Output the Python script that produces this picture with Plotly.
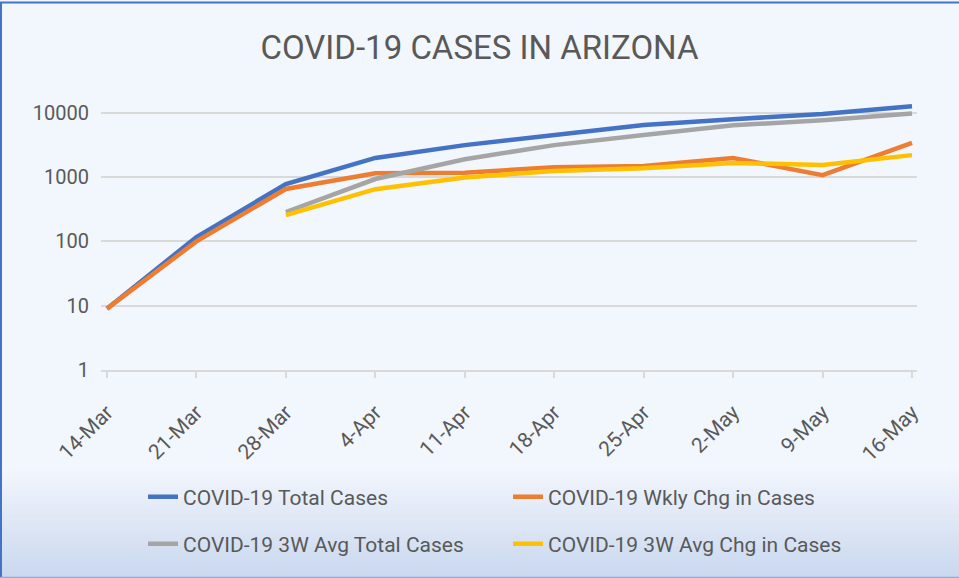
import plotly.graph_objects as go

dates = ["14-Mar", "21-Mar", "28-Mar", "4-Apr", "11-Apr", "18-Apr", "25-Apr", "2-May", "9-May", "16-May"]
total_cases = [9, 117, 780, 1990, 3150, 4500, 6450, 7980, 9600, 12700]
wkly_chg = [9, 100, 655, 1150, 1170, 1430, 1490, 1990, 1075, 3400]
avg3w_total = [None, None, 287, 935, 1900, 3150, 4520, 6400, 7700, 9800]
avg3w_chg = [None, None, 257, 650, 990, 1245, 1380, 1660, 1550, 2200]

series_names = ["COVID-19 Total Cases", "COVID-19 Wkly Chg in Cases",
                "COVID-19 3W Avg Total Cases", "COVID-19 3W Avg Chg in Cases"]
series_colors = ["#4472C4", "#ED7D31", "#A5A5A5", "#FFC000"]
series_vals = [total_cases, wkly_chg, avg3w_total, avg3w_chg]
series_legend = ["legend", "legend", "legend2", "legend2"]

FONT = "Roboto, sans-serif"
TXT = "#595959"

xs = list(range(len(dates)))
fig = go.Figure()
for name, color, vals, lg in zip(series_names, series_colors, series_vals, series_legend):
    fig.add_trace(go.Scatter(x=xs, y=vals, mode="lines", name=name,
                             line=dict(color=color, width=4.5), legend=lg,
                             connectgaps=False))

W, H = 959, 578
L, R, T, B = 101, 42, 100, 208
pw, ph = W - L - R, H - T - B

def px2paper_x(px):
    return (px - L) / pw

def px2paper_y(py):
    return (H - B - py) / ph

shapes = []
# bottom gradient
top_c = (242, 246, 253)
bot_c = (201, 215, 238)
n = 24
y0, y1 = 470, 578
for i in range(n):
    a = y0 + (y1 - y0) * i / n
    b = y0 + (y1 - y0) * (i + 1) / n
    t = (i + 0.5) / n
    c = tuple(round(top_c[k] + (bot_c[k] - top_c[k]) * t) for k in range(3))
    shapes.append(dict(type="rect", xref="paper", yref="paper", layer="below",
                       x0=px2paper_x(0), x1=px2paper_x(W), y0=px2paper_y(a), y1=px2paper_y(b + 0.6),
                       fillcolor="rgb(%d,%d,%d)" % c, line=dict(width=0)))
# border
shapes.append(dict(type="line", xref="paper", yref="paper", x0=px2paper_x(1), x1=px2paper_x(1),
                   y0=px2paper_y(2), y1=px2paper_y(578), line=dict(color="#4472C4", width=2)))
shapes.append(dict(type="line", xref="paper", yref="paper", x0=px2paper_x(0), x1=px2paper_x(W),
                   y0=px2paper_y(2.5), y1=px2paper_y(2.5), line=dict(color="#4472C4", width=2)))
shapes.append(dict(type="line", xref="paper", yref="paper", x0=px2paper_x(0), x1=px2paper_x(W),
                   y0=px2paper_y(577.5), y1=px2paper_y(577.5), line=dict(color="#8EA9DB", width=1.5)))

legend_common = dict(orientation="h", xref="container", yref="container", x=143 / W,
                     xanchor="left", yanchor="middle", entrywidth=320, entrywidthmode="pixels",
                     font=dict(size=21, color=TXT, family=FONT), bgcolor="rgba(0,0,0,0)",
                     traceorder="normal")

fig.update_layout(
    width=W, height=H,
    margin=dict(l=L, r=R, t=T, b=B, autoexpand=False),
    paper_bgcolor="#F2F6FD",
    plot_bgcolor="rgba(0,0,0,0)",
    font=dict(family=FONT, color=TXT),
    title=dict(text="COVID-19 CASES IN ARIZONA", x=0.5, xref="container", xanchor="center",
               y=1 - 47 / H, yref="container", yanchor="middle",
               font=dict(size=33, color=TXT, family=FONT)),
    shapes=shapes,
    xaxis=dict(range=[-0.067, 9.056], tickmode="array", tickvals=xs, ticktext=dates,
               tickangle=-45, tickfont=dict(size=21, color=TXT), showgrid=False,
               showline=True, linecolor="#D9D9D9", linewidth=1.5,
               ticks="outside", ticklen=6, tickcolor="#D9D9D9", tickwidth=1.5,
               zeroline=False, automargin=False, ticklabelstandoff=14),
    yaxis=dict(type="log", range=[0, 4.2], tickmode="array",
               tickvals=[1, 10, 100, 1000, 10000], ticktext=["1", "10", "100", "1000", "10000"],
               tickfont=dict(size=20, color=TXT), showgrid=True, gridcolor="#D9D9D9",
               gridwidth=1.5, showline=False, zeroline=False, ticks="", ticklabelstandoff=11,
               automargin=False),
    legend=dict(y=1 - 497 / H, **legend_common),
    legend2=dict(y=1 - 544 / H, **legend_common),
)

fig.write_html("out.html", config={"displayModeBar": False},
               post_script="document.body.style.margin='0';document.body.style.overflow='hidden';")
